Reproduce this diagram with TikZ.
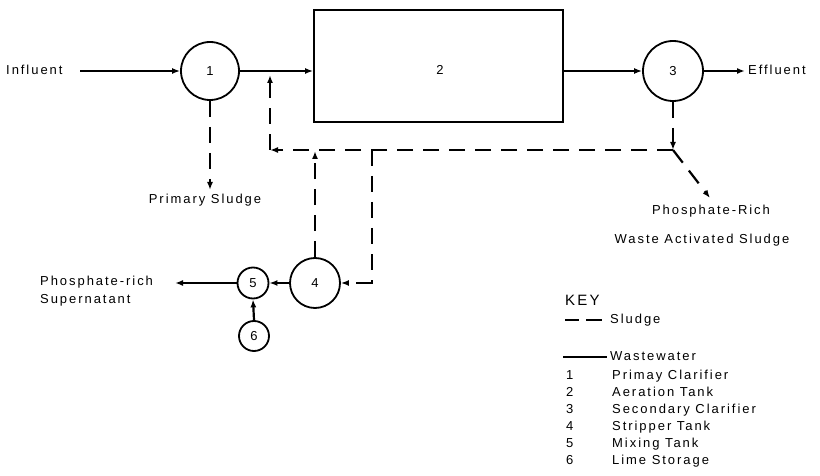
\documentclass[tikz,border=0pt]{standalone}
\usepackage{fontspec}
\setmainfont{Liberation Sans}[LetterSpace=15]
\usetikzlibrary{arrows.meta}
\begin{document}
\begin{tikzpicture}[x=1pt,y=-1pt,
  lab/.style={font=\fontsize{13}{15}\selectfont, inner sep=0pt, text height=9.5pt, text depth=3pt},
  unit/.style={draw, circle, line width=1.8pt, inner sep=0pt, font=\fontsize{13}{15}\selectfont},
  tank/.style={draw, rectangle, line width=1.8pt, inner sep=0pt, font=\fontsize{13}{15}\selectfont},
  ww/.style={line width=2.2pt, -{Latex[length=8pt,width=6pt]}},
  sl/.style={line width=2.2pt, dash pattern=on 16pt off 10pt, -{Latex[length=8pt,width=6pt]}}]
\useasboundingbox (0,0) rectangle (820,476);

% units
\node[unit, minimum size=58pt] (c1) at (210,71) {1};
\node[tank, minimum width=249pt, minimum height=112pt] (box) at (438.5,66) {};
\node[lab] (n2) at (440,71) {2};
\node[unit, minimum size=60pt] (c3) at (673,71) {3};
\node[unit, minimum size=50pt] (c4) at (315,283) {4};
\node[unit, minimum size=31pt] (c5) at (253,283) {5};
\node[unit, minimum size=30pt] (c6) at (254,336) {6};

% labels
\node[lab, anchor=west] (inf) at (6,71) {Influent};
\node[lab, anchor=west] (eff) at (748,71) {Effluent};
\node[lab] (ps) at (205,200) {Primary Sludge};
\node[lab] (pr) at (711,211) {Phosphate-Rich};
\node[lab] (was) at (702,240) {Waste Activated Sludge};
\node[lab, anchor=west] (sup1) at (40,282) {Phosphate-rich};
\node[lab, anchor=west] (sup2) at (40,300) {Supernatant};

% free ends and corners
\coordinate (inS) at (80,71);
\coordinate (effT) at (745,71);
\coordinate (psT) at (210,190);
\coordinate (j3) at (673,150);
\coordinate (cL) at (270,150);
\coordinate (tL) at (270,75);
\coordinate (j4) at (315,151);
\coordinate (cR) at (372,150);
\coordinate (cRb) at (372,283);
\coordinate (wasT) at (710,198);
\coordinate (supT) at (175,283);

% wastewater lines
\draw[ww] (inS) -- (c1.west);
\draw[ww] (c1.east) -- (c1.east -| box.west);
\draw[ww] (c3.west -| box.east) -- (c3.west);
\draw[ww] (c3.east) -- (effT);
\draw[ww] (c4.west) -- (c5.east);
\draw[ww] (c5.west) -- (supT);
\draw[ww] (c6.north) -- (c5.south);

% sludge lines
\draw[sl] (c1.south) -- (psT);
\draw[sl] (c3.south) -- (j3);
\draw[sl] (j3) -- (cL);
\draw[sl] (cL) -- (tL);
\draw[sl] (c4.north) -- (j4);
\draw[sl, -] (cR) -- ([yshift=-1pt]cRb);
\draw[sl] (cRb) -- (c4.east);
\draw[sl] (j3) -- (wasT);

% key
\node[lab, anchor=west, font=\fontsize{15}{17}\selectfont] (key) at (565,302) {KEY};
\draw[line width=2.2pt] (565,320) -- (579,320) (586,320) -- (602,320);
\node[lab, anchor=west] (ksl) at (610,320) {Sludge};
\draw[line width=1.4pt] (563,357) -- (607,357);
\node[lab, anchor=west] (kww) at (610,357) {Wastewater};
\foreach \i/\t [count=\k] in {1/Primay Clarifier,2/Aeration Tank,3/Secondary Clarifier,4/Stripper Tank,5/Mixing Tank,6/Lime Storage}{
  \node[lab, anchor=west] (kn\k) at (566,{376+17*(\k-1)}) {\i};
  \node[lab, anchor=west] (kt\k) at (612,{376+17*(\k-1)}) {\t};
}
\end{tikzpicture}
\end{document}
